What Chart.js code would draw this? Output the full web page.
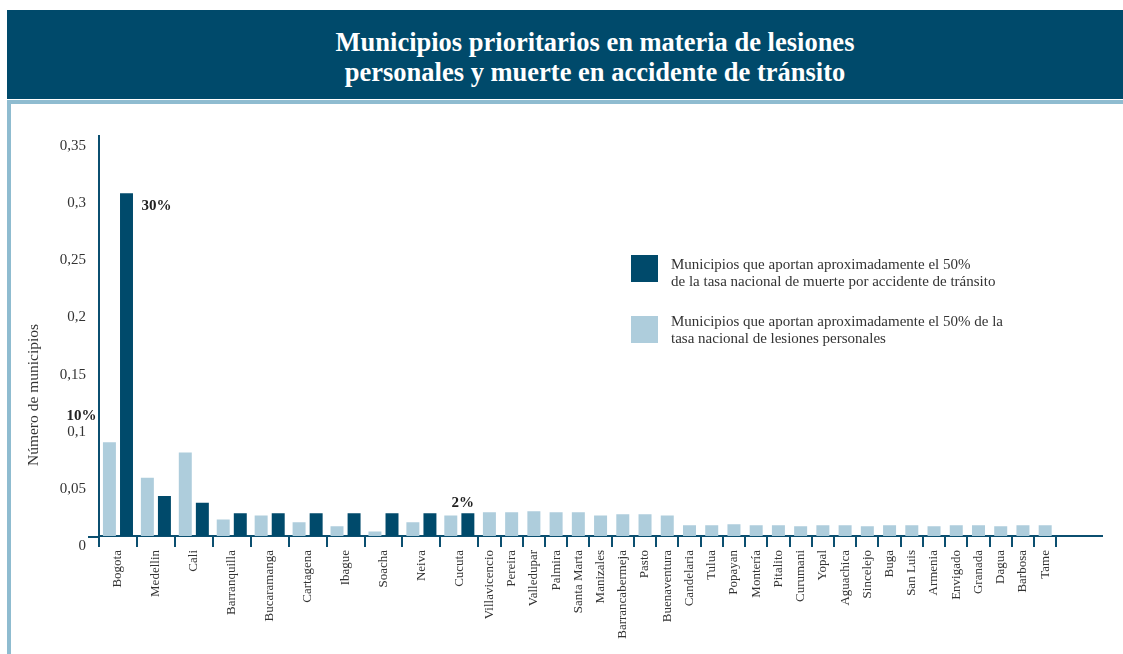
<!DOCTYPE html>
<html>
<head>
<meta charset="utf-8">
<script src="https://cdn.jsdelivr.net/npm/chart.js@4.4.1/dist/chart.umd.min.js"></script>
<style>
  html, body { margin: 0; padding: 0; background: #ffffff; width: 1123px; height: 654px; overflow: hidden; }
  #titlebar { position: absolute; left: 7px; top: 10px; width: 1116px; height: 89px; background: #004a6b;
    color: #ffffff; font: bold 26.5px "Liberation Serif", "Times New Roman", serif; text-align: center;
    line-height: 30px; box-sizing: border-box; padding-top: 17px; padding-left: 60px; }
  #strip { position: absolute; left: 7px; top: 100px; width: 1116px; height: 4px; background: #8fbcd0; }
  #lborder { position: absolute; left: 7px; top: 100px; width: 4px; height: 554px; background: #8fbcd0; }
  #wrap { position: absolute; left: 11px; top: 104px; width: 1112px; height: 550px; }
  #ytitle { position: absolute; left: -67px; top: 386px; width: 200px; height: 18px; line-height: 18px; text-align: center;
    transform: rotate(-90deg); font: 15.5px "Liberation Serif", "Times New Roman", serif; color: #333333; white-space: nowrap; }
  .lg-box { position: absolute; width: 27px; height: 27px; }
  .lg-text { position: absolute; font: 15px "Liberation Serif", "Times New Roman", serif; color: #333333; line-height: 17px; white-space: nowrap; }
</style>
</head>
<body>
<div id="titlebar"></div>
<div id="strip"></div>
<div id="lborder"></div>
<div id="wrap"><canvas id="chart" width="1112" height="550"></canvas></div>
<div id="ytitle"></div>
<div id="legend"></div>
<script>
// ---------------- data ----------------
const TITLE_LINES = ['Municipios prioritarios en materia de lesiones', 'personales y muerte en accidente de tránsito'];
const Y_TITLE = 'Número de municipios';

// municipalities with both series
const CATS_PAIRED = ['Bogota', 'Medellin', 'Cali', 'Barranquilla', 'Bucaramanga', 'Cartagena', 'Ibague', 'Soacha', 'Neiva', 'Cucuta'];
const LESIONES_PAIRED = [0.082, 0.051, 0.073, 0.0145, 0.018, 0.012, 0.0085, 0.004, 0.012, 0.018];
const MUERTE_PAIRED = [0.300, 0.035, 0.029, 0.020, 0.020, 0.020, 0.020, 0.020, 0.020, 0.020];

// municipalities with only the injuries series
const CATS_SINGLE = ['Villavicencio', 'Pereira', 'Valledupar', 'Palmira', 'Santa Marta', 'Manizales', 'Barrancabermeja',
  'Pasto', 'Buenaventura', 'Candelaria', 'Tulua', 'Popayan', 'Montería', 'Pitalito', 'Curumani', 'Yopal', 'Aguachica',
  'Sincelejo', 'Buga', 'San Luis', 'Armenia', 'Envigado', 'Granada', 'Dagua', 'Barbosa', 'Tame'];
const LESIONES_SINGLE = [0.0207, 0.0207, 0.0216, 0.0207, 0.0207, 0.018, 0.019, 0.019, 0.018,
  0.0094, 0.0094, 0.0102, 0.0094, 0.0094, 0.0085, 0.0094, 0.0094, 0.0085, 0.0094, 0.0094, 0.0085, 0.0094, 0.0094, 0.0085, 0.0094, 0.0094];

const Y_MIN = 0;
const Y_MAX = 0.35;
const Y_STEP = 0.05;

const LEGEND_LABELS = [
  ['Municipios que aportan aproximadamente el 50%', 'de la tasa nacional de muerte por accidente de tránsito'],
  ['Municipios que aportan aproximadamente el 50% de la', 'tasa nacional de lesiones personales']
];

// value annotations: which bar, which text
const ANNOTATIONS = [
  { dataset: 1, index: 0, text: '30%' },
  { dataset: 0, index: 0, text: '10%' },
  { dataset: 1, index: 9, text: '2%' }
];

// ---------------- styles ----------------
const DARK = '#004a6b';
const LIGHT = '#aecddc';
const AXIS_COLOR = '#0b4f70';
const TEXT_COLOR = '#333333';
const SERIF = '"Liberation Serif", "Times New Roman", serif';
const ANNOT_STYLE = [
  { align: 'left', dx: 15, dy: 13 },
  { align: 'center', dx: -28, dy: -26 },
  { align: 'center', dx: -5, dy: -10 }
];

// ---------------- html text ----------------
document.getElementById('titlebar').innerHTML = TITLE_LINES.map(t => '<div>' + t + '</div>').join('');
document.getElementById('ytitle').textContent = Y_TITLE;

const legendPos = [
  { boxTop: 255, textTop: 256 },
  { boxTop: 316, textTop: 313 }
];
const legendColors = [DARK, LIGHT];
const lg = document.getElementById('legend');
LEGEND_LABELS.forEach((lines, i) => {
  const b = document.createElement('div');
  b.className = 'lg-box';
  b.style.left = '631px';
  b.style.top = legendPos[i].boxTop + 'px';
  b.style.background = legendColors[i];
  lg.appendChild(b);
  const t = document.createElement('div');
  t.className = 'lg-text';
  t.style.left = '671px';
  t.style.top = legendPos[i].textTop + 'px';
  t.innerHTML = lines.join('<br>');
  lg.appendChild(t);
});

// ---------------- bar controller: each category axis segment groups its own bars ----------------
class SegmentedBarController extends Chart.BarController {
  _getAxis() { return [this.getDataset().xAxisID]; }
  _getAxisCount() { return 1; }
}
SegmentedBarController.id = 'segmentedBar';
SegmentedBarController.defaults = Chart.BarController.defaults;
SegmentedBarController.overrides = Chart.BarController.overrides;
Chart.register(SegmentedBarController);

// ---------------- chart ----------------
const annotPlugin = {
  id: 'annot',
  afterDatasetsDraw(chart) {
    const ctx = chart.ctx;
    ctx.save();
    ctx.font = 'bold 15px ' + SERIF;
    ctx.fillStyle = '#222222';
    ctx.textBaseline = 'middle';
    ANNOTATIONS.forEach((a, i) => {
      const st = ANNOT_STYLE[i];
      const el = chart.getDatasetMeta(a.dataset).data[a.index];
      ctx.textAlign = st.align;
      ctx.fillText(a.text, el.x + st.dx, el.y + st.dy);
    });
    // short extension of the category axis to the left of the value axis
    const area = chart.chartArea;
    const xb = chart.scales.x1;
    ctx.strokeStyle = AXIS_COLOR;
    ctx.lineWidth = 2;
    ctx.beginPath();
    ctx.moveTo(area.left - 11, xb.top + 1);
    ctx.lineTo(area.left, xb.top + 1);
    ctx.stroke();
    ctx.restore();
  }
};

const xCommon = (labels) => ({
  type: 'category',
  labels: labels,
  position: 'bottom',
  stack: 'cats',
  offset: true,
  border: { display: true, color: AXIS_COLOR, width: 2 },
  grid: {
    display: true, offset: true, drawOnChartArea: false, drawTicks: true, tickLength: 11,
    lineWidth: 2, color: AXIS_COLOR, tickWidth: 2,
    tickColor: (c) => (c.index >= labels.length && labels === CATS_SINGLE) ? 'rgba(0,0,0,0)' : AXIS_COLOR
  },
  ticks: {
    autoSkip: false, minRotation: 90, maxRotation: 90, padding: 3,
    color: TEXT_COLOR, font: { family: SERIF, size: 13 }
  },
  afterFit: (s) => { s.height = 118; }
});

new Chart(document.getElementById('chart'), {
  type: 'segmentedBar',
  data: {
    datasets: [
      { label: 'Lesiones personales', data: LESIONES_PAIRED, xAxisID: 'x1', yAxisID: 'y',
        backgroundColor: LIGHT, categoryPercentage: 0.9, barPercentage: 0.76, borderWidth: 0 },
      { label: 'Muerte por accidente de tránsito', data: MUERTE_PAIRED, xAxisID: 'x1', yAxisID: 'y',
        backgroundColor: DARK, categoryPercentage: 0.9, barPercentage: 0.76, borderWidth: 0 },
      { label: 'Lesiones personales ', data: LESIONES_SINGLE, xAxisID: 'x2', yAxisID: 'y',
        backgroundColor: LIGHT, grouped: false, categoryPercentage: 0.9, barPercentage: 0.65, borderWidth: 0 }
    ]
  },
  options: {
    responsive: false,
    animation: false,
    devicePixelRatio: 1,
    layout: { padding: { top: 32, right: 21, bottom: 0, left: 0 } },
    plugins: { legend: { display: false }, tooltip: { enabled: false }, title: { display: false } },
    scales: {
      x1: Object.assign(xCommon(CATS_PAIRED), { stackWeight: 379.3 }),
      x2: Object.assign(xCommon(CATS_SINGLE), { stackWeight: 578 }),
      x3: {
        type: 'linear', position: 'bottom', stack: 'cats', stackWeight: 45.7, min: 0, max: 1,
        border: { display: true, color: AXIS_COLOR, width: 2 },
        grid: { display: false, lineWidth: 2 },
        ticks: { display: false },
        afterFit: (s) => { s.height = 118; }
      },
      y: {
        type: 'linear', position: 'left', min: Y_MIN, max: Y_MAX,
        border: { display: true, color: AXIS_COLOR, width: 2 },
        grid: { display: false, drawTicks: false },
        ticks: {
          stepSize: Y_STEP, padding: 13, labelOffset: 10, color: TEXT_COLOR,
          font: { family: SERIF, size: 15 },
          callback: (v) => v === 0 ? '0' : String(+Number(v).toFixed(2)).replace('.', ',')
        },
        afterFit: (s) => { s.width = 88; }
      }
    }
  },
  plugins: [annotPlugin]
});
</script>
</body>
</html>
